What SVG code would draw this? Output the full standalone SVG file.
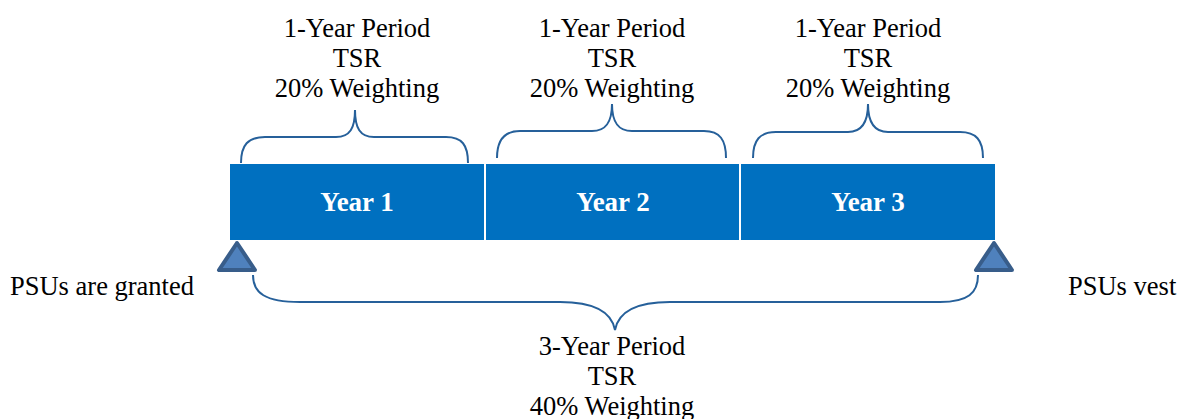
<svg xmlns="http://www.w3.org/2000/svg" width="1180" height="419" viewBox="0 0 1180 419">
<style>
text{font-family:"Liberation Serif","Times New Roman",serif;font-size:26.5px;fill:#000}
.c{text-anchor:middle}
.yr{font-weight:bold;font-size:27px;fill:#fff;text-anchor:middle}
.box{fill:#0070C0}
.brace{fill:none;stroke:#26609A;stroke-width:2}
.tri{fill:#4F81BD;stroke:#385D8A;stroke-width:4;stroke-linejoin:round}
</style>
<rect width="1180" height="419" fill="#fff"/>
<g id="year1"><rect class="box" x="230" y="164" width="254" height="76"/><text class="yr" x="357" y="211">Year 1</text></g>
<g id="year2"><rect class="box" x="486" y="164" width="253" height="76"/><text class="yr" x="613" y="211">Year 2</text></g>
<g id="year3"><rect class="box" x="741" y="164" width="254" height="76"/><text class="yr" x="868" y="211">Year 3</text></g>
<g id="label1"><text class="c" x="357" y="37">1-Year Period</text><text class="c" x="357" y="67">TSR</text><text class="c" x="357" y="97">20% Weighting</text></g>
<g id="label2"><text class="c" x="612" y="37">1-Year Period</text><text class="c" x="612" y="67">TSR</text><text class="c" x="612" y="97">20% Weighting</text></g>
<g id="label3"><text class="c" x="868" y="37">1-Year Period</text><text class="c" x="868" y="67">TSR</text><text class="c" x="868" y="97">20% Weighting</text></g>
<g id="label4"><text class="c" x="612" y="355">3-Year Period</text><text class="c" x="612" y="385">TSR</text><text class="c" x="612" y="415">40% Weighting</text></g>
<g id="granted"><polygon class="tri" points="237,243 219,270 255,270"/><text x="10" y="295">PSUs are granted</text></g>
<g id="vest"><polygon class="tri" points="994,243 976,270 1012,270"/><text x="1068" y="295">PSUs vest</text></g>
<g id="connectors">
<path class="brace" d="M241,163 C241,145 248,137 265,137 L336,137 C350,137 355,128 355,110 C355,128 360,137 374,137 L446,137 C462,137 468,145 468,163"/>
<path class="brace" d="M497,158 C497,140 504,131 520,131 L592,131 C606,131 612,122 612,104 C612,122 618,131 632,131 L704,131 C720,131 726,140 726,158"/>
<path class="brace" d="M753,158 C753,140 760,132 776,132 L848,132 C862,132 868,122 868,104 C868,122 874,132 888,132 L960,132 C976,132 983,140 983,158"/>
<path class="brace" d="M253,275 C253,293 265,302 300,302 L560,302 C598,302 612,314 615,330 C618,314 632,302 670,302 L940,302 C968,302 978,293 978,275"/>
</g>
</svg>
